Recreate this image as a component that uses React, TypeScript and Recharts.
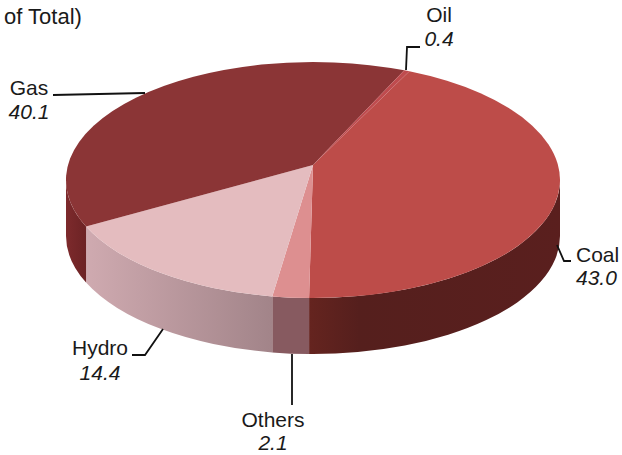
import React from 'react';
import { PieChart, Pie } from 'recharts';

const sliceNames = ['Coal', 'Others', 'Hydro', 'Gas', 'Oil'];
const sliceValues = [43.0, 2.1, 14.4, 40.1, 0.4];

const chartData = sliceNames.map((name, i) => ({ name, value: sliceValues[i] }));

const CX = 313;
const CY = 180;
const RX = 247;
const RY = 118;
const DEPTH = 56;
const APEX_Y = 165;
const TILT = (CY - APEX_Y) / RY;

const topColors: Record<string, string> = {
  Coal: '#bd4c49',
  Others: '#dd8f90',
  Hydro: '#e4bcbf',
  Gas: '#8b3536',
  Oil: '#bf4b4e',
};

const wallColors: Record<string, string> = {
  Coal: 'url(#wallCoal)',
  Others: '#875a60',
  Hydro: 'url(#wallHydro)',
  Gas: 'url(#wallGas)',
  Oil: '#6f2424',
};

// text anchors and leader lines for each slice
const labelSpots: Record<string, { x: number; y1: number; y2: number; anchor: string; line: string }> = {
  Coal: { x: 576, y1: 262, y2: 285, anchor: 'start', line: 'M557 245 L564 261 L571 261' },
  Others: { x: 273, y1: 427, y2: 450, anchor: 'middle', line: 'M292 354 L292 405' },
  Hydro: { x: 100, y1: 355, y2: 380, anchor: 'middle', line: 'M132 355 L145 355 L163 329' },
  Gas: { x: 29, y1: 95, y2: 119, anchor: 'middle', line: 'M53 95 L145 93' },
  Oil: { x: 439, y1: 22, y2: 46, anchor: 'middle', line: 'M420 47 L407 47 L406 70' },
};

// perspective: the pie's centre sits above the middle of the rim ellipse,
// so a pie angle lands on a different spot of that ellipse
const warp = (deg: number) => {
  const t = (deg * Math.PI) / 180;
  const d = 1 + TILT * Math.sin(t);
  const sinP = (Math.sin(t) / d) * (1 - TILT * TILT) + TILT;
  const cosP = (Math.cos(t) / d) * Math.sqrt(1 - TILT * TILT);
  const p = (Math.atan2(sinP, cosP) * 180) / Math.PI;
  const delta = ((p - deg + 540) % 360) - 180;
  return deg + delta;
};

const rim = (deg: number, dy = 0) => {
  const r = (deg * Math.PI) / 180;
  return `${(CX + RX * Math.cos(r)).toFixed(2)} ${(CY - RY * Math.sin(r) + dy).toFixed(2)}`;
};

const SliceShape = (props: any) => {
  const { name } = props;
  const startAngle = warp(props.startAngle);
  const endAngle = warp(props.endAngle);
  const large = Math.abs(startAngle - endAngle) > 180 ? 1 : 0;
  const top = `M${CX} ${APEX_Y} L${rim(startAngle)} A${RX} ${RY} 0 ${large} 1 ${rim(endAngle)} Z`;

  // only the front half of the rim has a visible wall
  const from = Math.min(startAngle, 0);
  const to = Math.max(endAngle, -180);
  const wall =
    from > to
      ? `M${rim(from)} A${RX} ${RY} 0 0 1 ${rim(to)} L${rim(to, DEPTH)} A${RX} ${RY} 0 0 0 ${rim(from, DEPTH)} Z`
      : null;

  return (
    <g>
      {wall && <path d={wall} fill={wallColors[name]} stroke="none" />}
      <path d={top} fill={topColors[name]} stroke="none" />
    </g>
  );
};

const SliceLabel = (props: any) => {
  const spot = labelSpots[props.name];
  return (
    <g>
      <path d={spot.line} fill="none" stroke="#111" strokeWidth={1.8} />
      <text x={spot.x} y={spot.y1} textAnchor={spot.anchor as any} fontSize={21} fill="#1a1a1a">
        {props.name}
      </text>
      <text x={spot.x} y={spot.y2} textAnchor={spot.anchor as any} fontSize={21} fontStyle="italic" fill="#1a1a1a">
        {props.value.toFixed(1)}
      </text>
    </g>
  );
};

export default function App() {
  return (
    <div style={{ position: 'absolute', left: 0, top: 0, fontFamily: '"Liberation Sans", Arial, sans-serif' }}>
      <PieChart width={622} height={455} margin={{ top: 0, right: 0, bottom: 0, left: 0 }}>
        <defs>
          <linearGradient id="wallHydro" x1="0" y1="0" x2="1" y2="0">
            <stop offset="0%" stopColor="#cfaab0" />
            <stop offset="100%" stopColor="#a28489" />
          </linearGradient>
          <linearGradient id="wallCoal" x1="0" y1="0" x2="1" y2="0">
            <stop offset="0%" stopColor="#65241f" />
            <stop offset="20%" stopColor="#551f1d" />
            <stop offset="100%" stopColor="#5a1f1e" />
          </linearGradient>
          <linearGradient id="wallGas" x1="0" y1="0" x2="1" y2="0">
            <stop offset="0%" stopColor="#7d2a2c" />
            <stop offset="100%" stopColor="#6c2325" />
          </linearGradient>
        </defs>
        <text x={4} y={24} fontSize={22} fill="#1a1a1a">
          of Total)
        </text>
        <Pie
          data={chartData}
          dataKey="value"
          nameKey="name"
          cx={CX}
          cy={CY}
          innerRadius={0}
          outerRadius={RX}
          startAngle={64}
          endAngle={-296}
          paddingAngle={0}
          stroke="none"
          shape={SliceShape}
          label={SliceLabel}
          labelLine={false}
          isAnimationActive={false}
        />
      </PieChart>
    </div>
  );
}
